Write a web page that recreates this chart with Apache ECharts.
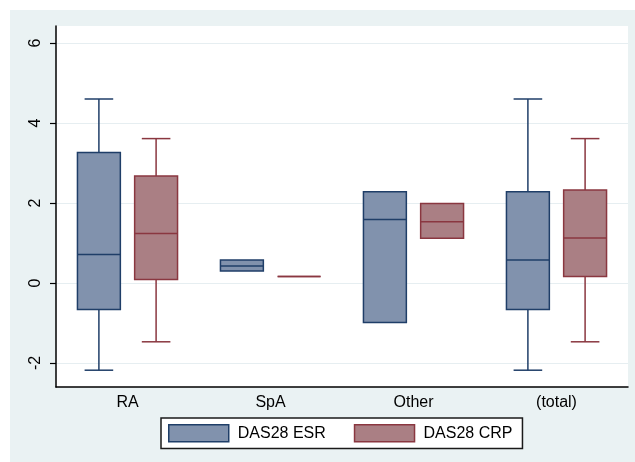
<!DOCTYPE html>
<html>
<head>
<meta charset="utf-8">
<script src="https://cdn.jsdelivr.net/npm/echarts@6/dist/echarts.min.js"></script>
<style>
  html, body { margin: 0; padding: 0; background: #fff; }
  #main { position: absolute; left: 10px; top: 10px; width: 625px; height: 452px; }
</style>
</head>
<body>
<div id="main"></div>
<script>
// categories and box stats: [low, q1, median, q3, high]
var categories = ['RA', 'SpA', 'Other', '(total)'];
var esrStats = [
  [-2.18, -0.66, 0.71, 3.26, 4.6],
  [0.3, 0.3, 0.425, 0.575, 0.575],
  [-0.99, -0.99, 1.59, 2.28, 2.28],
  [-2.18, -0.66, 0.575, 2.28, 4.6]
];
var crpStats = [
  [-1.47, 0.09, 1.24, 2.675, 3.61],
  [0.16, 0.16, 0.16, 0.16, 0.16],
  [1.12, 1.12, 1.53, 1.99, 1.99],
  [-1.47, 0.16, 1.125, 2.325, 3.61]
];
var yTicks = [-2, 0, 2, 4, 6];

var colors = [
  { fill: '#8192ad', line: '#1f3e68' },
  { fill: '#aa7f84', line: '#8a3740' }
];
var offsets = [-0.2, 0.2];

function toData(stats) {
  return stats.map(function (s, i) {
    return [i].concat(s);
  });
}

function renderBox(params, api) {
  var cat = api.value(0);
  var band = api.size([1, 0])[0];
  var c = colors[params.seriesIndex];
  var x = api.coord([cat, 0])[0] + offsets[params.seriesIndex] * band;
  var w = band * 0.3;
  var capW = band * 0.2;
  var yLow = api.coord([cat, api.value(1)])[1];
  var yQ1 = api.coord([cat, api.value(2)])[1];
  var yMed = api.coord([cat, api.value(3)])[1];
  var yQ3 = api.coord([cat, api.value(4)])[1];
  var yHigh = api.coord([cat, api.value(5)])[1];
  var lineStyle = { stroke: c.line, lineWidth: 1.5 };
  var children = [];
  if (yLow - yQ1 > 0.5) {
    children.push({ type: 'line', shape: { x1: x, y1: yQ1, x2: x, y2: yLow }, style: lineStyle });
    children.push({ type: 'line', shape: { x1: x - capW / 2, y1: yLow, x2: x + capW / 2, y2: yLow }, style: lineStyle });
  }
  if (yQ3 - yHigh > 0.5) {
    children.push({ type: 'line', shape: { x1: x, y1: yQ3, x2: x, y2: yHigh }, style: lineStyle });
    children.push({ type: 'line', shape: { x1: x - capW / 2, y1: yHigh, x2: x + capW / 2, y2: yHigh }, style: lineStyle });
  }
  children.push({
    type: 'rect',
    shape: { x: x - w / 2, y: yQ3, width: w, height: yQ1 - yQ3 },
    style: { fill: c.fill, stroke: c.line, lineWidth: 1.5 }
  });
  children.push({ type: 'line', shape: { x1: x - w / 2, y1: yMed, x2: x + w / 2, y2: yMed }, style: lineStyle });
  return { type: 'group', children: children };
}

var chart = echarts.init(document.getElementById('main'));
var font = '"Liberation Sans", Arial, sans-serif';

var option = {
  backgroundColor: '#eaf2f3',
  animation: false,
  grid: {
    left: 46,
    right: 7,
    top: 16,
    bottom: 75,
    show: true,
    backgroundColor: '#ffffff',
    borderWidth: 0
  },
  legend: {
    left: 151,
    top: 408,
    orient: 'horizontal',
    backgroundColor: '#ffffff',
    borderColor: '#1a1a1a',
    borderWidth: 1.5,
    borderRadius: 0,
    padding: [6, 10, 6, 7],
    itemGap: 28,
    itemWidth: 60,
    itemHeight: 17,
    icon: 'rect',
    textStyle: { fontFamily: font, fontSize: 16, color: '#000', padding: [0, 0, 0, 4] },
    data: [
      { name: 'DAS28 ESR', itemStyle: { color: colors[0].fill, borderColor: colors[0].line, borderWidth: 1.5 } },
      { name: 'DAS28 CRP', itemStyle: { color: colors[1].fill, borderColor: colors[1].line, borderWidth: 1.5 } }
    ]
  },
  xAxis: {
    type: 'category',
    data: categories,
    boundaryGap: true,
    axisLine: { show: true, onZero: false, lineStyle: { color: '#000', width: 1.5 } },
    axisTick: { show: false },
    axisLabel: { fontFamily: font, fontSize: 16, color: '#000', margin: 8 },
    splitLine: { show: false }
  },
  yAxis: {
    type: 'value',
    min: -2.6,
    max: 6.425,
    axisLine: { show: true, onZero: false, lineStyle: { color: '#000', width: 1.5 } },
    axisTick: { show: true, length: 6, lineStyle: { color: '#000', width: 1.2 }, customValues: yTicks },
    axisLabel: { fontFamily: font, fontSize: 16, color: '#000', rotate: 90, margin: 12, customValues: yTicks },
    splitLine: { show: true, lineStyle: { color: '#e6eef1', width: 1.2 } }
  },
  series: [
    {
      name: 'DAS28 ESR',
      type: 'custom',
      renderItem: renderBox,
      itemStyle: { color: colors[0].fill },
      encode: { x: 0, y: [1, 2, 3, 4, 5] },
      data: toData(esrStats)
    },
    {
      name: 'DAS28 CRP',
      type: 'custom',
      renderItem: renderBox,
      itemStyle: { color: colors[1].fill },
      encode: { x: 0, y: [1, 2, 3, 4, 5] },
      data: toData(crpStats)
    }
  ]
};

chart.setOption(option);
</script>
</body>
</html>
